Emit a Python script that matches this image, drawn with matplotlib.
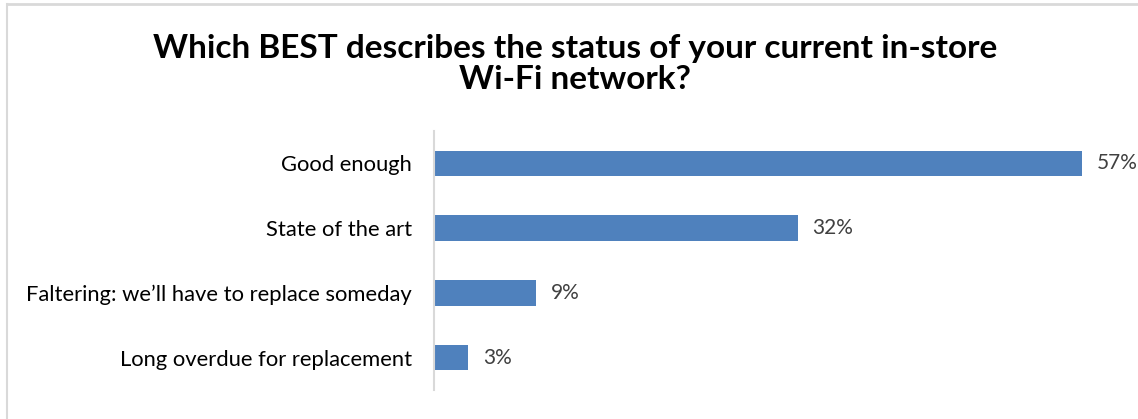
import matplotlib

matplotlib.use("Agg")
import matplotlib.pyplot as plt
from matplotlib.lines import Line2D

CATEGORIES = [
    "Good enough",
    "State of the art",
    "Faltering: we\u2019ll have to replace someday",
    "Long overdue for replacement",
]
VALUES = [57, 32, 9, 3]
TITLE = "Which BEST describes the status of your current in-store\nWi-Fi network?"

BAR_COLOR = "#4f81bd"
GRID_GRAY = "#d9d9d9"

plt.rcParams["font.family"] = ["Lato", "DejaVu Sans"]

fig = plt.figure(figsize=(11.38, 4.19), dpi=100)
ax = fig.add_axes([434 / 1138, 29 / 419, (1116 - 434) / 1138, 259 / 419])

y = list(range(len(CATEGORIES)))
ax.barh(y, VALUES, height=0.39, color=BAR_COLOR)
for yi, v in zip(y, VALUES):
    ax.text(v + 1.3, yi, f"{v}%", va="center", ha="left", fontsize=15, color="#404040")

ax.set_xlim(0, 60)
ax.set_ylim(len(CATEGORIES) - 0.5, -0.5)
ax.set_yticks(y, CATEGORIES, fontsize=15.8, color="#000000")
ax.set_xticks([])
ax.tick_params(axis="y", length=0, pad=16)
for side in ("top", "right", "bottom"):
    ax.spines[side].set_visible(False)
ax.spines["left"].set_color(GRID_GRAY)
ax.spines["left"].set_linewidth(1.5)

fig.text(575 / 1138, 1 - 64 / 419, TITLE, ha="center", va="center",
         fontsize=24, fontweight="bold", linespacing=1.12)

# outer frame lines
fig.add_artist(Line2D([7 / 1138, 1], [1 - 4 / 419, 1 - 4 / 419], color=GRID_GRAY, lw=2))
fig.add_artist(Line2D([7 / 1138, 7 / 1138], [0, 1 - 4 / 419], color=GRID_GRAY, lw=1.5))

fig.savefig("out.png", dpi=100)
